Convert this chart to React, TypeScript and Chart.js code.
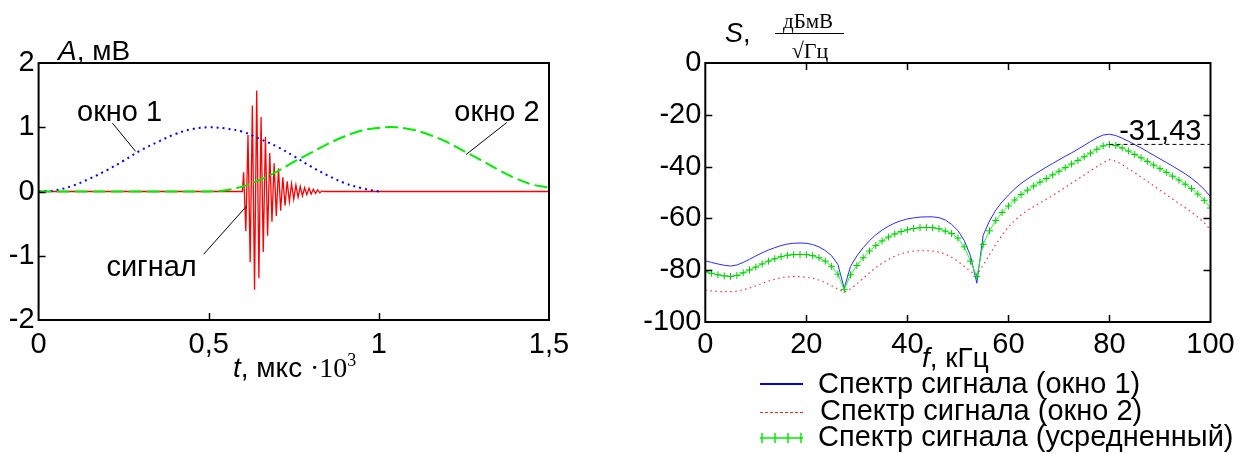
import React, { useEffect, useRef } from "react";
import { Chart, registerables } from "chart.js";

Chart.register(...registerables);

const SANS = "'Liberation Sans', Arial, Helvetica, sans-serif";
const SERIF = "'Liberation Serif', 'Times New Roman', serif";

// ---------------- Left chart data (time domain) ----------------
const timeTicks = [0, 0.5, 1, 1.5];
const ampTicks = [-2, -1, 0, 1, 2];

const winT = [0, 0.05, 0.1, 0.15, 0.2, 0.25, 0.3, 0.35, 0.4, 0.45, 0.5, 0.55, 0.6, 0.65, 0.7, 0.75, 0.8, 0.85, 0.9, 0.95, 1.0, 1.05, 1.1, 1.15, 1.2, 1.25, 1.3, 1.35, 1.4, 1.45, 1.5];
const window1 = [0, 0.02, 0.09, 0.2, 0.33, 0.48, 0.64, 0.77, 0.89, 0.97, 1.0, 0.98, 0.93, 0.82, 0.7, 0.55, 0.39, 0.25, 0.13, 0.05, 0.0, null, null, null, null, null, null, null, null, null, null];
const window2 = [0, 0, 0, 0, 0, 0, 0, 0, 0, 0, 0, 0.02, 0.08, 0.18, 0.31, 0.46, 0.6, 0.74, 0.86, 0.95, 0.99, 1.0, 0.96, 0.88, 0.77, 0.63, 0.49, 0.34, 0.21, 0.11, 0.06];

const signalT = [0, 0.599, 0.6026, 0.609, 0.6154, 0.6218, 0.6282, 0.6346, 0.641, 0.6474, 0.6538, 0.6602, 0.6666, 0.673, 0.6794, 0.6858, 0.6922, 0.6986, 0.705, 0.7114, 0.7178, 0.7242, 0.7306, 0.737, 0.7434, 0.7498, 0.7562, 0.7626, 0.769, 0.7754, 0.7818, 0.7882, 0.7946, 0.801, 0.8074, 0.8138, 0.8202, 0.8266, 0.833, 0.8394, 1.5];
const signalA = [0, 0, 0.3, -0.62, 0.88, -1.1, 1.34, -1.53, 1.57, -1.35, 1.16, -0.94, 0.85, -0.69, 0.6, -0.47, 0.44, -0.38, 0.36, -0.3, 0.22, -0.22, 0.16, -0.16, 0.12, -0.12, 0.1, -0.09, 0.08, -0.07, 0.06, -0.05, 0.05, -0.04, 0.035, -0.03, 0.025, -0.02, 0.01, 0, 0];

// ---------------- Right chart data (spectra) ----------------
const freqTicks = [0, 20, 40, 60, 80, 100];
const levelTicks = [-100, -80, -60, -40, -20, 0];

const freq = [0, 1.25, 2.5, 3.75, 5, 6.25, 7.5, 8.75, 10, 11.25, 12.5, 13.75, 15, 16.25, 17.5, 18.75, 20, 21.25, 22.5, 23.75, 25, 26.25, 27.5, 28.75, 30, 31.25, 32.5, 33.75, 35, 36.25, 37.5, 38.75, 40, 41.25, 42.5, 43.75, 45, 46.25, 47.5, 48.75, 50, 51.25, 52.5, 53.75, 55, 56.25, 57.5, 58.75, 60, 61.25, 62.5, 63.75, 65, 66.25, 67.5, 68.75, 70, 71.25, 72.5, 73.75, 75, 76.25, 77.5, 78.75, 80, 81.25, 82.5, 83.75, 85, 86.25, 87.5, 88.75, 90, 91.25, 92.5, 93.75, 95, 96.25, 97.5, 98.75, 100];

const specWin1 = [
  -76.4, -77.0, -77.6, -78.1, -78.4, -78.0, -77.0, -75.8, -74.5, -73.3,
  -72.2, -71.3, -70.5, -69.9, -69.6, -69.5, -69.6, -70.1, -71.0, -72.4,
  -74.4, -77.8, -87.0, -78.5, -74.5, -71.3, -68.6, -66.3, -64.5, -63.0,
  -61.8, -60.9, -60.2, -59.8, -59.5, -59.4, -59.4, -59.7, -60.6, -62.3,
  -64.7, -68.5, -74.5, -85.0, -66.5, -61.0, -56.8, -53.6, -51.0, -48.6,
  -46.5, -44.8, -43.2, -41.7, -40.2, -38.8, -37.4, -36.0, -34.7, -33.3,
  -31.8, -30.3, -28.9, -27.8, -27.5, -28.0, -29.0, -30.2, -31.5, -32.8,
  -34.2, -35.6, -37.0, -38.4, -39.8, -41.3, -42.8, -44.5, -46.5, -48.8,
  -51.6,
];

const specWin2 = [
  -87.8, -88.0, -88.2, -88.3, -88.3, -88.1, -87.6, -86.9, -86.0, -85.1,
  -84.2, -83.5, -82.9, -82.6, -82.5, -82.5, -82.7, -83.1, -83.8, -84.8,
  -86.0, -87.3, -88.5, -87.2, -85.3, -83.2, -81.0, -79.0, -77.3, -75.8,
  -74.6, -73.7, -73.0, -72.6, -72.4, -72.4, -72.6, -73.0, -73.8, -75.0,
  -76.6, -78.5, -80.5, -81.8, -78.0, -74.0, -70.0, -66.5, -63.2, -60.8,
  -58.7, -56.9, -55.5, -54.0, -52.6, -51.2, -49.6, -48.0, -46.4, -44.8,
  -43.2, -41.6, -40.0, -38.5, -37.3, -37.9, -39.2, -40.8, -42.4, -44.0,
  -45.7, -47.4, -49.1, -50.8, -52.5, -54.2, -55.9, -57.6, -59.5, -61.7,
  -64.3,
];

const specAvg = [
  -80.6, -81.2, -81.8, -82.2, -82.4, -82.0, -81.0, -79.9, -78.8, -77.6,
  -76.5, -75.6, -74.8, -74.2, -74.0, -73.9, -74.0, -74.4, -75.2, -76.5,
  -78.5, -81.5, -87.5, -81.8, -78.2, -75.2, -72.6, -70.5, -68.7, -67.2,
  -66.0, -65.1, -64.4, -63.9, -63.6, -63.5, -63.6, -64.0, -64.9, -65.8,
  -67.6, -71.0, -76.5, -82.5, -70.0, -64.8, -60.8, -57.7, -55.2, -52.9,
  -50.8, -49.1, -47.5, -46.0, -44.6, -43.2, -41.8, -40.4, -39.0, -37.6,
  -36.2, -34.8, -33.3, -32.0, -31.43, -31.9, -32.8, -34.0, -35.3, -36.6,
  -38.0, -39.4, -40.8, -42.2, -43.7, -45.2, -46.8, -48.5, -50.6, -53.0,
  -56.0,
];

const avgPeakFreq = 80;
const avgPeakLevel = -31.43;
const avgPeakLabel = "-31,43";

const legendLabels = [
  "Спектр сигнала (окно 1)",
  "Спектр сигнала (окно 2)",
  "Спектр сигнала (усредненный)",
];

// ---------------- helpers ----------------
const fmtComma = (v: number) => String(v).replace(".", ",");

function fixedTicks(values: number[]) {
  return (scale: any) => {
    scale.ticks = values.map((value) => ({ value }));
  };
}

type Part = { text: string; font: string; dy?: number };
function drawParts(ctx: CanvasRenderingContext2D, parts: Part[], x: number, y: number) {
  let cx = x;
  for (const p of parts) {
    ctx.font = p.font;
    ctx.fillText(p.text, cx, y + (p.dy || 0));
    cx += ctx.measureText(p.text).width;
  }
}

// annotations of the left chart in data units: text centre/baseline, leader line ends
const leftNotes = [
  { text: "окно 1", t: 0.238, a: 1.09, line: [0.217, 1.065, 0.285, 0.625] },
  { text: "окно 2", t: 1.347, a: 1.09, line: [1.376, 1.074, 1.256, 0.574] },
  { text: "сигнал", t: 0.332, a: -1.313, line: [0.485, -0.977, 0.611, -0.228] },
];

const leftDecor = {
  id: "leftDecor",
  afterDatasetsDraw(chart: any) {
    const { ctx, chartArea: a } = chart;
    const xs = chart.scales.x;
    const ys = chart.scales.y;
    ctx.save();
    ctx.strokeStyle = "#000";
    ctx.lineWidth = 2;
    ctx.strokeRect(a.left, a.top, a.right - a.left, a.bottom - a.top);
    ctx.lineWidth = 1.5;
    ctx.beginPath();
    ampTicks.slice(1, -1).forEach((v) => {
      const py = Math.round(ys.getPixelForValue(v)) + 0.5;
      ctx.moveTo(a.left, py);
      ctx.lineTo(a.left + 7, py);
    });
    timeTicks.slice(1, -1).forEach((v) => {
      const px = Math.round(xs.getPixelForValue(v)) + 0.5;
      ctx.moveTo(px, a.bottom);
      ctx.lineTo(px, a.bottom - 7);
    });
    ctx.stroke();

    ctx.lineWidth = 1;
    ctx.beginPath();
    leftNotes.forEach((n) => {
      ctx.moveTo(xs.getPixelForValue(n.line[0]), ys.getPixelForValue(n.line[1]));
      ctx.lineTo(xs.getPixelForValue(n.line[2]), ys.getPixelForValue(n.line[3]));
    });
    ctx.stroke();

    ctx.fillStyle = "#000";
    ctx.textBaseline = "alphabetic";
    ctx.textAlign = "center";
    ctx.font = `29px ${SANS}`;
    leftNotes.forEach((n) => {
      ctx.fillText(n.text, xs.getPixelForValue(n.t), ys.getPixelForValue(n.a));
    });

    ctx.textAlign = "left";
    drawParts(ctx, [
      { text: "A", font: `italic 28px ${SANS}` },
      { text: ", мВ", font: `28px ${SANS}` },
    ], 58, 60);
    drawParts(ctx, [
      { text: "t", font: `italic 28px ${SANS}` },
      { text: ", мкс ", font: `28px ${SANS}` },
      { text: "·10", font: `28px ${SERIF}` },
      { text: "3", font: `18px ${SERIF}`, dy: -11 },
    ], 233, 377);
    ctx.restore();
  },
};

const rightDecor = {
  id: "rightDecor",
  afterDatasetsDraw(chart: any) {
    const { ctx, chartArea: a } = chart;
    const xs = chart.scales.x;
    const ys = chart.scales.y;
    const X0 = 600; // canvas offset in the page
    ctx.save();
    ctx.strokeStyle = "#000";
    ctx.lineWidth = 2;
    ctx.strokeRect(a.left, a.top, a.right - a.left, a.bottom - a.top);
    ctx.lineWidth = 1.5;
    ctx.beginPath();
    levelTicks.slice(1, -1).forEach((v) => {
      const py = Math.round(ys.getPixelForValue(v)) + 0.5;
      ctx.moveTo(a.left, py);
      ctx.lineTo(a.left + 7, py);
      ctx.moveTo(a.right, py);
      ctx.lineTo(a.right - 7, py);
    });
    freqTicks.slice(1, -1).forEach((v) => {
      const px = Math.round(xs.getPixelForValue(v)) + 0.5;
      ctx.moveTo(px, a.bottom);
      ctx.lineTo(px, a.bottom - 7);
      ctx.moveTo(px, a.top);
      ctx.lineTo(px, a.top + 7);
    });
    ctx.stroke();

    ctx.fillStyle = "#000";
    ctx.textBaseline = "alphabetic";
    // peak value label
    ctx.textAlign = "right";
    ctx.font = `29px ${SANS}`;
    ctx.fillText(avgPeakLabel, xs.getPixelForValue(98.2), ys.getPixelForValue(avgPeakLevel) - 4);

    // axis titles
    ctx.textAlign = "left";
    drawParts(ctx, [
      { text: "S", font: `italic 27px ${SANS}` },
      { text: ",", font: `27px ${SANS}` },
    ], 725 - X0, 42);
    ctx.textAlign = "center";
    ctx.font = `21px ${SERIF}`;
    ctx.fillText("дБмВ", 808 - X0, 28);
    ctx.font = `22px ${SERIF}`;
    ctx.fillText("√Гц", 810 - X0, 58);
    ctx.lineWidth = 1;
    ctx.beginPath();
    ctx.moveTo(775 - X0, 33.5);
    ctx.lineTo(844 - X0, 33.5);
    ctx.stroke();
    ctx.textAlign = "left";
    drawParts(ctx, [
      { text: "f", font: `italic 28px ${SANS}` },
      { text: ", кГц", font: `28px ${SANS}` },
    ], 922 - X0, 367);

    // legend
    const lx1 = 760 - X0;
    const lx2 = 803 - X0;
    ctx.lineWidth = 2;
    ctx.strokeStyle = "#0000ff";
    ctx.beginPath();
    ctx.moveTo(lx1, 384);
    ctx.lineTo(lx2, 384);
    ctx.stroke();
    ctx.lineWidth = 1;
    ctx.strokeStyle = "#ff2020";
    ctx.setLineDash([3, 2]);
    ctx.beginPath();
    ctx.moveTo(lx1, 412.5);
    ctx.lineTo(lx2, 412.5);
    ctx.stroke();
    ctx.setLineDash([]);
    ctx.strokeStyle = "#00ee00";
    ctx.lineWidth = 1.5;
    ctx.beginPath();
    ctx.moveTo(lx1, 438);
    ctx.lineTo(lx2, 438);
    [762, 775, 788, 801].forEach((cx) => {
      ctx.moveTo(cx - X0, 433);
      ctx.lineTo(cx - X0, 443);
    });
    ctx.stroke();

    ctx.fillStyle = "#000";
    ctx.font = `29px ${SANS}`;
    ctx.fillText(legendLabels[0], 818 - X0, 393);
    ctx.fillText(legendLabels[1], 820 - X0, 420);
    ctx.fillText(legendLabels[2], 818 - X0, 446);
    ctx.restore();
  },
};

const tickFont = { family: SANS, size: 29 };

export default function App() {
  const leftRef = useRef<HTMLCanvasElement | null>(null);
  const rightRef = useRef<HTMLCanvasElement | null>(null);

  useEffect(() => {
    const left = new Chart(leftRef.current as HTMLCanvasElement, {
      type: "line",
      data: {
        datasets: [
          {
            label: "окно 2",
            data: winT.map((t, i) => ({ x: t, y: window2[i] })),
            borderColor: "#00ee00",
            borderWidth: 2,
            borderDash: [13, 5],
            pointRadius: 0,
            tension: 0.4,
          },
          {
            label: "окно 1",
            data: winT.map((t, i) => ({ x: t, y: window1[i] })),
            borderColor: "#0000ff",
            borderWidth: 2,
            borderDash: [2, 4],
            pointRadius: 0,
            tension: 0.4,
          },
          {
            label: "сигнал",
            data: signalT.map((t, i) => ({ x: t, y: signalA[i] })),
            borderColor: "#ff0000",
            borderWidth: 1.3,
            pointRadius: 0,
            tension: 0,
          },
        ] as any,
      },
      options: {
        animation: false,
        responsive: false,
        maintainAspectRatio: false,
        events: [],
        layout: { padding: { left: 0, top: 63, right: 51, bottom: 0 } },
        plugins: { legend: { display: false }, tooltip: { enabled: false } },
        scales: {
          x: {
            type: "linear",
            min: 0,
            max: 1.5,
            afterBuildTicks: fixedTicks(timeTicks),
            afterFit: (s: any) => { s.height = 134; },
            grid: { display: false, drawTicks: false },
            border: { display: false },
            ticks: {
              padding: 8,
              font: tickFont,
              color: "#000",
              maxRotation: 0,
              autoSkip: false,
              callback: (v: any) => fmtComma(Number(v)),
            },
          },
          y: {
            type: "linear",
            min: -2,
            max: 2,
            afterBuildTicks: fixedTicks(ampTicks),
            afterFit: (s: any) => { s.width = 38.6; },
            grid: { display: false, drawTicks: false },
            border: { display: false },
            ticks: {
              padding: 4,
              font: tickFont,
              color: "#000",
              autoSkip: false,
              callback: (v: any) => String(v),
            },
          },
        },
      } as any,
      plugins: [leftDecor],
    });

    const right = new Chart(rightRef.current as HTMLCanvasElement, {
      type: "line",
      data: {
        datasets: [
          {
            label: "peak",
            data: [
              { x: avgPeakFreq, y: avgPeakLevel },
              { x: 100, y: avgPeakLevel },
            ],
            borderColor: "#000",
            borderWidth: 1,
            borderDash: [4, 3],
            pointRadius: 0,
          },
          {
            label: legendLabels[2],
            data: freq.map((f, i) => ({ x: f, y: specAvg[i] })),
            borderColor: "#22ff22",
            borderWidth: 1,
            pointStyle: "cross",
            pointRadius: 3.5,
            pointBorderWidth: 1,
            pointBorderColor: "#00cc00",
            tension: 0,
          },
          {
            label: legendLabels[0],
            data: freq.map((f, i) => ({ x: f, y: specWin1[i] })),
            borderColor: "#2a2aff",
            borderWidth: 1,
            pointRadius: 0,
            tension: 0,
          },
          {
            label: legendLabels[1],
            data: freq.map((f, i) => ({ x: f, y: specWin2[i] })),
            borderColor: "#ff3030",
            borderWidth: 1.2,
            borderDash: [1.5, 3.5],
            pointRadius: 0,
            tension: 0,
          },
        ] as any,
      },
      options: {
        animation: false,
        responsive: false,
        maintainAspectRatio: false,
        events: [],
        layout: { padding: { left: 0, top: 63, right: 44.5, bottom: 0 } },
        plugins: { legend: { display: false }, tooltip: { enabled: false } },
        scales: {
          x: {
            type: "linear",
            min: 0,
            max: 100,
            afterBuildTicks: fixedTicks(freqTicks),
            afterFit: (s: any) => { s.height = 132; },
            grid: { display: false, drawTicks: false },
            border: { display: false },
            ticks: {
              padding: 6,
              font: tickFont,
              color: "#000",
              maxRotation: 0,
              autoSkip: false,
              callback: (v: any) => String(v),
            },
          },
          y: {
            type: "linear",
            min: -100,
            max: 0,
            afterBuildTicks: fixedTicks(levelTicks),
            afterFit: (s: any) => { s.width = 105.3; },
            grid: { display: false, drawTicks: false },
            border: { display: false },
            ticks: {
              padding: 4,
              font: tickFont,
              color: "#000",
              autoSkip: false,
              callback: (v: any) => String(v),
            },
          },
        },
      } as any,
      plugins: [rightDecor],
    });

    return () => {
      left.destroy();
      right.destroy();
    };
  }, []);

  return (
    <div
      style={{
        position: "absolute",
        left: 0,
        top: 0,
        width: 1255,
        height: 454,
        background: "#fff",
        overflow: "hidden",
      }}
    >
      <canvas
        ref={leftRef}
        width={600}
        height={454}
        style={{ position: "absolute", left: 0, top: 0, width: 600, height: 454 }}
      />
      <canvas
        ref={rightRef}
        width={655}
        height={454}
        style={{ position: "absolute", left: 600, top: 0, width: 655, height: 454 }}
      />
    </div>
  );
}
